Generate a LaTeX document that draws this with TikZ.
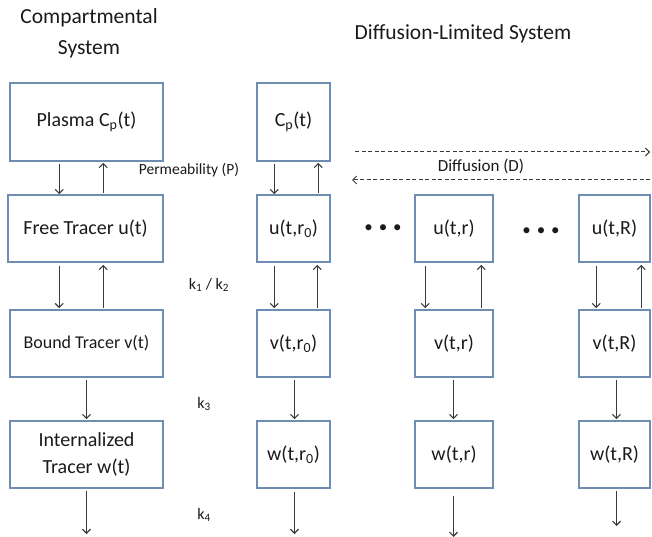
\documentclass[tikz,border=0pt]{standalone}
\usepackage{fontspec}
\setmainfont{Carlito}
\usetikzlibrary{arrows.meta}
\definecolor{boxc}{HTML}{6F8DB3}
\definecolor{arrc}{HTML}{3A3A3A}
\definecolor{txtc}{HTML}{1A1A1A}
\tikzset{
  bx/.style={draw=boxc, line width=1.6pt, rectangle, inner sep=0pt, align=center, text=txtc,
    font=\fontsize{20}{23}\selectfont},
  arr/.style={draw=arrc, line width=1.1pt, -{Straight Barb[length=4pt,width=8pt,line width=1.1pt]}},
  darr/.style={draw=arrc, line width=1pt, dashed, dash pattern=on 4pt off 2.5pt,
    -{Straight Barb[length=4pt,width=8pt,line width=1pt]}},
  lbl/.style={text=txtc, inner sep=0pt},
}
\begin{document}
\begin{tikzpicture}[x=1pt,y=-1pt]
\useasboundingbox (0,0) rectangle (652,537);
% titles
\node[lbl, align=center, font=\fontsize{21.5}{31}\selectfont] (t1) at (89,33) {Compartmental\\System};
\node[lbl, font=\fontsize{21.5}{24}\selectfont] (t2) at (463,34) {Diffusion-Limited System};
% left column
\node[bx, minimum width=153pt, minimum height=78pt] (pl) at (86.5,122) {Plasma C\textsubscript{p}(t)};
\node[bx, minimum width=155pt, minimum height=67pt] (fr) at (85.5,228.5) {Free Tracer u(t)};
\node[bx, minimum width=153pt, minimum height=67pt, font=\fontsize{18}{21}\selectfont] (bd) at (86.5,343.5) {Bound Tracer v(t)};
\node[bx, minimum width=153pt, minimum height=67pt, font=\fontsize{20}{27}\selectfont] (in) at (86.5,454.5) {Internalized\\Tracer w(t)};
% r0 column
\node[bx, minimum width=73pt, minimum height=78pt] (c0) at (293.5,122) {C\textsubscript{p}(t)};
\node[bx, minimum width=73pt, minimum height=67pt] (u0) at (293.5,228.5) {u(t,r\textsubscript{0})};
\node[bx, minimum width=73pt, minimum height=67pt] (v0) at (293.5,343.5) {v(t,r\textsubscript{0})};
\node[bx, minimum width=73pt, minimum height=67pt] (w0) at (293.5,454.5) {w(t,r\textsubscript{0})};
% r column
\node[bx, minimum width=78pt, minimum height=67pt] (ur) at (454,228.5) {u(t,r)};
\node[bx, minimum width=78pt, minimum height=67pt] (vr) at (454,343.5) {v(t,r)};
\node[bx, minimum width=78pt, minimum height=67pt] (wr) at (454,454.5) {w(t,r)};
% R column
\node[bx, minimum width=71pt, minimum height=67pt] (uR) at (614.5,228.5) {u(t,R)};
\node[bx, minimum width=71pt, minimum height=67pt] (vR) at (614.5,343.5) {v(t,R)};
\node[bx, minimum width=71pt, minimum height=67pt] (wR) at (614.5,454.5) {w(t,R)};
% labels
\node[lbl, font=\fontsize{15.5}{18}\selectfont] (perm) at (189,170) {Permeability (P)};
\node[lbl, font=\fontsize{17}{20}\selectfont] (diff) at (481,166) {Diffusion (D)};
\node[lbl, font=\fontsize{16}{18}\selectfont] (k12) at (209,285) {k\textsubscript{1} / k\textsubscript{2}};
\node[lbl, font=\fontsize{16}{18}\selectfont] (k3) at (204,404) {k\textsubscript{3}};
\node[lbl, font=\fontsize{16}{18}\selectfont] (k4) at (204,515) {k\textsubscript{4}};
\node[lbl, font=\fontsize{17}{20}\selectfont] (dots1) at (383,229) {•\hspace{6pt}•\hspace{6pt}•};
\node[lbl, font=\fontsize{17}{20}\selectfont] (dots2) at (541,232) {•\hspace{6pt}•\hspace{6pt}•};
% left column arrows (pl/bd/in left = 10, fr left = 8)
\draw[arr] ([xshift=50pt,yshift=-2pt]pl.south west) -- ([xshift=52pt]fr.north west);
\draw[arr] ([xshift=96pt,yshift=1pt]fr.north west) -- ([xshift=94pt,yshift=-1pt]pl.south west);
\draw[arr] ([xshift=52pt,yshift=-3pt]fr.south west) -- ([xshift=50pt,yshift=1pt]bd.north west);
\draw[arr] ([xshift=94pt,yshift=1pt]bd.north west) -- ([xshift=96pt,yshift=-2pt]fr.south west);
\draw[arr] ([yshift=-2pt]bd.south) -- ([yshift=1pt]in.north);
\coordinate (inend) at (86.5,534);
\draw[arr] ([yshift=-2pt]in.south) -- (inend);
% r0 column arrows
\draw[arr] ([xshift=18pt,yshift=-2pt]c0.south west) -- ([xshift=18pt]u0.north west);
\draw[arr] ([xshift=62pt,yshift=1pt]u0.north west) -- ([xshift=62pt,yshift=-1pt]c0.south west);
\draw[arr] ([xshift=18pt,yshift=-3pt]u0.south west) -- ([xshift=18pt,yshift=1pt]v0.north west);
\draw[arr] ([xshift=61pt,yshift=1pt]v0.north west) -- ([xshift=61pt,yshift=-2pt]u0.south west);
\draw[arr] ([xshift=1pt,yshift=-2pt]v0.south) -- ([xshift=1pt,yshift=1pt]w0.north);
\coordinate (w0end) at (294.5,534);
\draw[arr] ([xshift=1pt,yshift=-3pt]w0.south) -- (w0end);
% r column arrows
\draw[arr] ([xshift=11pt,yshift=-3pt]ur.south west) -- ([xshift=11pt,yshift=1pt]vr.north west);
\draw[arr] ([xshift=67pt,yshift=1pt]vr.north west) -- ([xshift=67pt,yshift=-2pt]ur.south west);
\draw[arr] ([xshift=-0.5pt,yshift=-2pt]vr.south) -- ([xshift=-0.5pt,yshift=1pt]wr.north);
\coordinate (wrend) at (453.5,537);
\draw[arr] ([xshift=-0.5pt,yshift=-7pt]wr.south) -- (wrend);
% R column arrows
\draw[arr] ([xshift=18pt,yshift=-3pt]uR.south west) -- ([xshift=18pt,yshift=1pt]vR.north west);
\draw[arr] ([xshift=63pt,yshift=1pt]vR.north west) -- ([xshift=63pt,yshift=-2pt]uR.south west);
\draw[arr] ([xshift=2pt,yshift=-2pt]vR.south) -- ([xshift=2pt,yshift=1pt]wR.north);
\coordinate (wRend) at (616.5,526);
\draw[arr] ([xshift=2pt,yshift=-2pt]wR.south) -- (wRend);
% diffusion arrows
\coordinate (da1) at (355,152);
\coordinate (da2) at (650,152);
\coordinate (db1) at (650,180);
\coordinate (db2) at (352,180);
\draw[darr] (da1) -- (da2);
\draw[darr] (db1) -- (db2);
\end{tikzpicture}
\end{document}
